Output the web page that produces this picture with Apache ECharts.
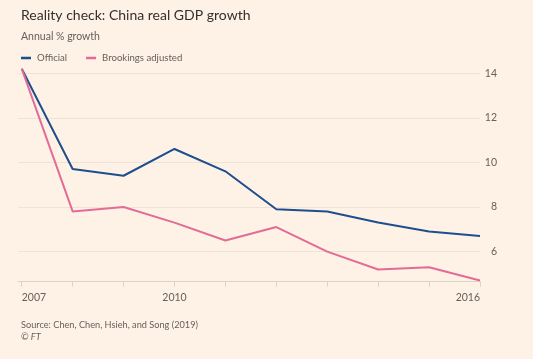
<!DOCTYPE html>
<html><head><meta charset="utf-8">
<script src="https://cdn.jsdelivr.net/npm/echarts@6/dist/echarts.min.js"></script>
<style>html,body{margin:0;padding:0;background:#fef1e6}#c{width:533px;height:359px}</style>
</head><body><div id="c"></div>
<script>
const years = [2007, 2008, 2009, 2010, 2011, 2012, 2013, 2014, 2015, 2016];
const official = [14.2, 9.7, 9.4, 10.6, 9.6, 7.9, 7.8, 7.3, 6.9, 6.7];
const brookings = [14.2, 7.8, 8.0, 7.3, 6.5, 7.1, 6.0, 5.2, 5.3, 4.7];
const xTickLabels = [2007, 2010, 2016];
const yTickLabels = [6, 8, 10, 12, 14];
const seriesNames = ['Official', 'Brookings adjusted'];

const FONT = 'Lato, "Noto Sans", sans-serif';
const chart = echarts.init(document.getElementById('c'), null, {renderer: 'canvas'});
chart.setOption({
  backgroundColor: '#fef1e6',
  animation: false,
  textStyle: {fontFamily: FONT},
  title: [
    {text: 'Reality check: China real GDP growth', left: 16, top: 3,
     textStyle: {fontFamily: FONT, fontSize: 14, fontWeight: 'normal', color: '#33302e'}},
    {text: 'Annual % growth', left: 16, top: 26,
     textStyle: {fontFamily: FONT, fontSize: 10.5, fontWeight: 'normal', color: '#66605c'}},
    {text: 'Source: Chen, Chen, Hsieh, and Song (2019)', left: 16, top: 316,
     textStyle: {fontFamily: FONT, fontSize: 9.2, fontWeight: 'normal', color: '#66605c'}},
    {text: '© FT', left: 16, top: 328,
     textStyle: {fontFamily: FONT, fontSize: 9.2, fontWeight: 'normal', fontStyle: 'italic', color: '#66605c'}}
  ],
  legend: {
    left: 16, top: 48, icon: 'rect', itemWidth: 10, itemHeight: 2.5, itemGap: 19,
    textStyle: {fontFamily: FONT, fontSize: 9.6, color: '#66605c', padding: [0, 0, 0, 1]},
    data: seriesNames
  },
  grid: {left: 18, right: 53, top: 62, bottom: 77.3, containLabel: false},
  xAxis: {
    type: 'value', min: 2006.927, max: 2016,
    axisLine: {show: true, lineStyle: {color: '#dcd2c8', width: 1}},
    axisTick: {show: true, length: 5, customValues: years, lineStyle: {color: '#dcd2c8'}},
    axisLabel: {customValues: xTickLabels, formatter: v => String(v), margin: 10,
      fontFamily: FONT, fontSize: 10.5, color: '#66605c',
      alignMinLabel: 'left', alignMaxLabel: 'right'},
    splitLine: {show: false}
  },
  yAxis: {
    type: 'value', position: 'right', min: 4.65, max: 14.5,
    axisLine: {show: false},
    axisTick: {show: false, customValues: yTickLabels},
    axisLabel: {customValues: yTickLabels, align: 'right', margin: 17,
      fontFamily: FONT, fontSize: 10.5, color: '#66605c'},
    splitLine: {show: true, lineStyle: {color: '#efe3d8', width: 1}}
  },
  series: [
    {name: seriesNames[0], type: 'line', data: years.map((y, i) => [y, official[i]]),
     showSymbol: false, lineStyle: {color: '#1d4f8d', width: 2}, itemStyle: {color: '#1d4f8d'}},
    {name: seriesNames[1], type: 'line', data: years.map((y, i) => [y, brookings[i]]),
     showSymbol: false, lineStyle: {color: '#e36b98', width: 2}, itemStyle: {color: '#e36b98'}}
  ]
});
</script></body></html>
